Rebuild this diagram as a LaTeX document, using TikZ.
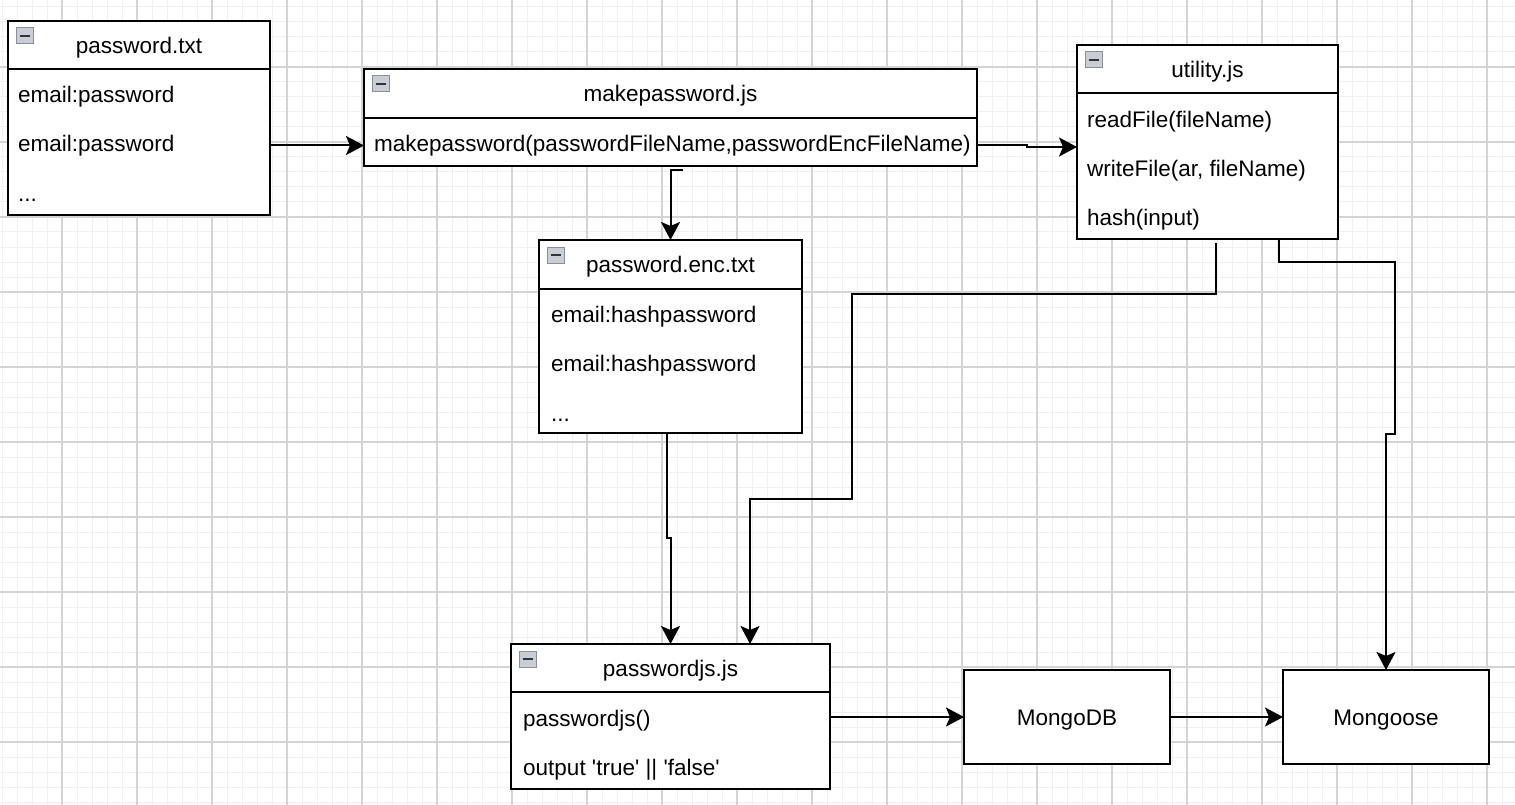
\documentclass[tikz,border=0pt]{standalone}
\usepackage{fontspec}
\setmainfont{Liberation Sans}[Ligatures=TeXOff]
\usetikzlibrary{arrows.meta,calc}
\definecolor{gmaj}{HTML}{D4D4D4}
\definecolor{gmin}{HTML}{F0F0F0}
\definecolor{icofill}{HTML}{C9CDD5}
\definecolor{icoedge}{HTML}{8A8E96}
\begin{document}
\begin{tikzpicture}[x=1pt,y=-1pt,
  box/.style={draw=black, line width=2pt, fill=white, rectangle, anchor=north west, inner sep=0pt, outer sep=0pt},
  txt/.style={font=\fontsize{22.5}{27}\selectfont, inner sep=0pt, text height=16pt, text depth=4.7pt, yshift=-2.5pt},
  row/.style={txt, anchor=west},
  divider/.style={draw=black, line width=2pt},
  arr/.style={draw=black, line width=2pt, -{Stealth[length=18pt,width=19pt,inset=4pt]}},
  icobox/.style={fill=icofill, draw=icoedge, line width=1pt},
  icobar/.style={draw=black!80, line width=2.5pt},
  minorline/.style={draw=gmin, line width=1pt},
  majorline/.style={draw=gmaj, line width=1.2pt}
]
\useasboundingbox (0,0) rectangle (1515,805);
\fill[white] (0,0) rectangle (1515,805);
% grid
\foreach \x in {2,17,...,1514} \draw[minorline] (\x,0) -- (\x,805);
\foreach \y in {7,22,...,804} \draw[minorline] (0,\y) -- (1515,\y);
\foreach \x in {62,137,...,1514} \draw[majorline] (\x,0) -- (\x,805);
\foreach \y in {67,142,...,804} \draw[majorline] (0,\y) -- (1515,\y);

% password.txt
\node[box, minimum width=262pt, minimum height=194pt] (pt) at (8,21) {};
\draw[divider] ($(pt.north west)+(0,48)$) -- ($(pt.north east)+(0,48)$);
\node[txt] (pt-t) at ($(pt.north)+(0,24)$) {password.txt};
\node[row] (pt-r1) at (18,94) {email:password};
\node[row] (pt-r2) at (18,143) {email:password};
\node[row] (pt-r3) at (18,193) {...};
\draw[icobox] ($(pt.north west)+(8,7)$) rectangle +(17,16);
\draw[icobar] ($(pt.north west)+(11.5,15)$) -- +(10,0);

% makepassword.js
\node[box, minimum width=613pt, minimum height=97pt] (mk) at (364,69) {};
\draw[divider] ($(mk.north west)+(0,49)$) -- ($(mk.north east)+(0,49)$);
\node[txt] (mk-t) at ($(mk.north)+(0,24)$) {makepassword.js};
\node[row] (mk-r1) at (374,143) {makepassword(passwordFileName,passwordEncFileName)};
\draw[icobox] ($(mk.north west)+(8,7)$) rectangle +(17,16);
\draw[icobar] ($(mk.north west)+(11.5,15)$) -- +(10,0);

% utility.js
\node[box, minimum width=261pt, minimum height=194pt] (ut) at (1077,45) {};
\draw[divider] ($(ut.north west)+(0,48)$) -- ($(ut.north east)+(0,48)$);
\node[txt] (ut-t) at ($(ut.north)+(0,24)$) {utility.js};
\node[row] (ut-r1) at (1087,119) {readFile(fileName)};
\node[row] (ut-r2) at (1087,168) {writeFile(ar, fileName)};
\node[row] (ut-r3) at (1087,217) {hash(input)};
\draw[icobox] ($(ut.north west)+(8,7)$) rectangle +(17,16);
\draw[icobar] ($(ut.north west)+(11.5,15)$) -- +(10,0);

% password.enc.txt
\node[box, minimum width=263pt, minimum height=193pt] (enc) at (539,240) {};
\draw[divider] ($(enc.north west)+(0,49)$) -- ($(enc.north east)+(0,49)$);
\node[txt] (enc-t) at ($(enc.north)+(0,24)$) {password.enc.txt};
\node[row] (enc-r1) at (551,314) {email:hashpassword};
\node[row] (enc-r2) at (551,363) {email:hashpassword};
\node[row] (enc-r3) at (551,413) {...};
\draw[icobox] ($(enc.north west)+(8,7)$) rectangle +(17,16);
\draw[icobar] ($(enc.north west)+(11.5,15)$) -- +(10,0);

% passwordjs.js
\node[box, minimum width=319pt, minimum height=145pt] (pj) at (511,644) {};
\draw[divider] ($(pj.north west)+(0,48)$) -- ($(pj.north east)+(0,48)$);
\node[txt] (pj-t) at ($(pj.north)+(0,24)$) {passwordjs.js};
\node[row] (pj-r1) at (523,718) {passwordjs()};
\node[row] (pj-r2) at (523,767) {output 'true' || 'false'};
\draw[icobox] ($(pj.north west)+(8,7)$) rectangle +(17,16);
\draw[icobar] ($(pj.north west)+(11.5,15)$) -- +(10,0);

% MongoDB, Mongoose
\node[box, minimum width=206pt, minimum height=94pt] (mdb) at (964,670) {};
\node[txt] (mdb-t) at (mdb.center) {MongoDB};
\node[box, minimum width=206pt, minimum height=94pt] (mg) at (1283,670) {};
\node[txt] (mg-t) at (mg.center) {Mongoose};

% bend coordinates
\coordinate (b2) at (1027,147);
\coordinate (s3) at (683,170);
\coordinate (j4) at (667,538);
\coordinate (s5) at (1216,243);
\coordinate (c5a) at (1216,294);
\coordinate (c5b) at (852,499);
\coordinate (t5) at (750,644);
\coordinate (s6) at (1279,240);
\coordinate (c6a) at (1395,262);
\coordinate (c6b) at (1395,434);

% connectors
\draw[arr] (pt.east |- pt-r2) -- (mk.west |- pt-r2);
\draw[arr] (mk.east |- mk-r1) -| (b2) -- (ut.west |- b2);
\draw[arr] (s3) -| (enc.north);
\draw[arr] (enc.south -| j4) -- (j4) -| (pj.north);
\draw[arr] (s5) -- (c5a) -| (c5b) -| (t5 |- pj.north);
\draw[arr] (ut.south -| s6) |- (c6a) -- (c6b) -| (mg.north);
\draw[arr] (pj.east |- mdb.west) -- (mdb.west);
\draw[arr] (mdb.east) -- (mg.west);
\end{tikzpicture}
\end{document}
